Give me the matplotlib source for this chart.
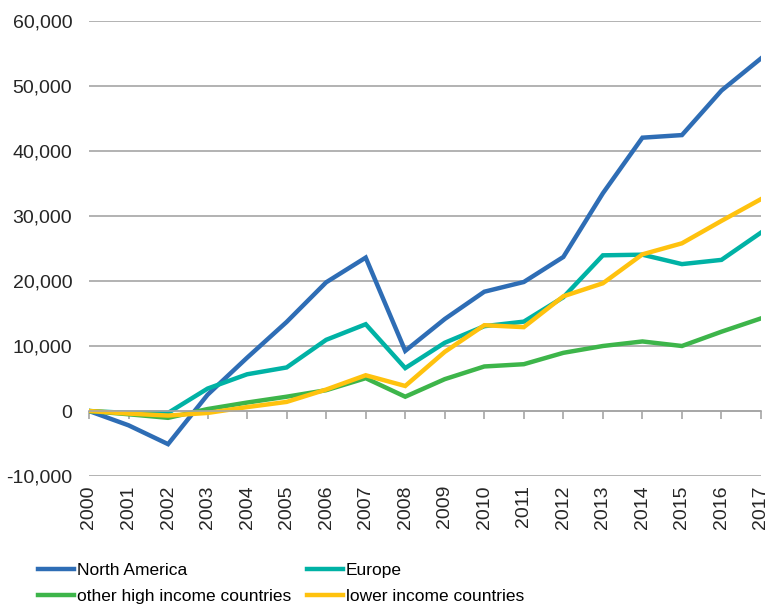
import matplotlib
matplotlib.use("Agg")
import matplotlib.pyplot as plt
from matplotlib.ticker import FuncFormatter
import matplotlib.transforms as mtransforms

years = list(range(2000, 2018))
north_america = [0, -2200, -5100, 2500, 8200, 13700, 19800, 23600, 9250, 14150, 18350, 19850, 23700, 33500, 42050, 42450, 49300, 54250]
europe = [0, -300, -300, 3450, 5650, 6700, 10950, 13350, 6600, 10500, 13050, 13750, 17500, 23950, 24050, 22600, 23250, 27450]
other_high = [0, -500, -1050, 300, 1300, 2200, 3200, 5050, 2200, 4900, 6850, 7200, 8950, 10000, 10700, 10000, 12200, 14250]
lower_income = [0, -400, -700, -300, 600, 1400, 3300, 5500, 3850, 9100, 13200, 12900, 17650, 19650, 24100, 25800, 29250, 32600]

series = [
    ("North America", north_america, "#2E6DB5"),
    ("Europe", europe, "#00B2A5"),
    ("other high income countries", other_high, "#3DB54A"),
    ("lower income countries", lower_income, "#FFC20E"),
]

plt.rcParams['font.family'] = ['Liberation Sans', 'DejaVu Sans']

fig = plt.figure(figsize=(7.66, 6.05), dpi=100)
ax = fig.add_axes([89/766, 1-476/605, (761-89)/766, (476-21)/605])

lines = {}
for name, vals, col in series:
    lines[name], = ax.plot(years, vals, color=col, lw=3.2, label=name, solid_joinstyle='miter')

ax.set_xlim(2000, 2017)
ax.set_ylim(-10000, 60000)
ax.set_yticks(range(-10000, 60001, 10000))
ax.yaxis.set_major_formatter(FuncFormatter(lambda v, p: f"{int(v):,}"))
ax.tick_params(axis='y', length=0, labelsize=14, colors='#262626', pad=12)
ax.grid(axis='y', color='#A6A6A6', lw=1.2)
ax.set_axisbelow(True)
for s in ['top', 'right', 'left']:
    ax.spines[s].set_visible(False)
ax.spines['bottom'].set_position(('data', 0))
ax.spines['bottom'].set_color('#A6A6A6')
ax.spines['bottom'].set_linewidth(1.2)
ax.set_xticks(years)
ax.tick_params(axis='x', direction='out', length=6, color='#A6A6A6', width=1.2, labelbottom=False)

trans = mtransforms.blended_transform_factory(ax.transData, ax.transAxes)
for yr in years:
    ax.text(yr, -0.02, str(yr), transform=trans, rotation=90, ha='center', va='top',
            fontsize=14, color='#262626')

order = ["North America", "other high income countries", "Europe", "lower income countries"]
handles = [lines[n] for n in order]
fig.legend(handles, order, loc='upper left', bbox_to_anchor=(31/766, 1-556/605), ncol=2,
           frameon=False, fontsize=12.5, handlelength=2.1, handletextpad=0.15,
           columnspacing=0.9, labelspacing=0.6, borderaxespad=0)

fig.savefig("out.png", dpi=100)
